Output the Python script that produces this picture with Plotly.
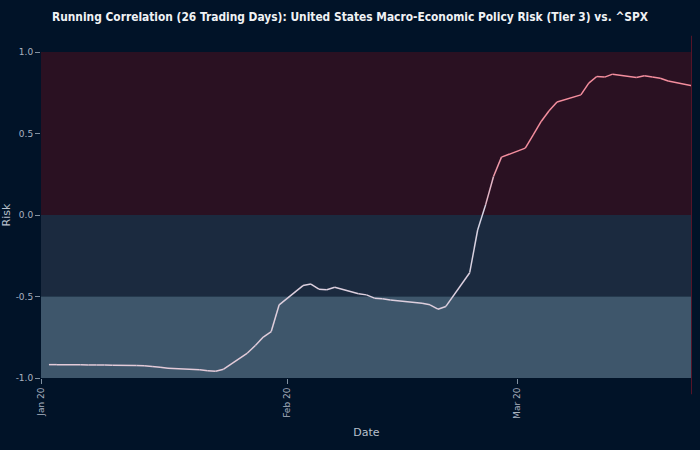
import plotly.graph_objects as go

dates = ["2020-01-02","2020-01-03","2020-01-06","2020-01-07","2020-01-08","2020-01-09","2020-01-10",
         "2020-01-13","2020-01-14","2020-01-15","2020-01-16","2020-01-17","2020-01-21","2020-01-22",
         "2020-01-23","2020-01-24","2020-01-27","2020-01-28","2020-01-29","2020-01-30","2020-01-31",
         "2020-02-03","2020-02-04","2020-02-05","2020-02-06","2020-02-07","2020-02-10","2020-02-11",
         "2020-02-12","2020-02-13","2020-02-14","2020-02-18","2020-02-19","2020-02-20","2020-02-21",
         "2020-02-24","2020-02-25","2020-02-26","2020-02-27","2020-02-28","2020-03-02","2020-03-03",
         "2020-03-04","2020-03-05","2020-03-06","2020-03-09","2020-03-10","2020-03-11","2020-03-12",
         "2020-03-13","2020-03-16","2020-03-17","2020-03-18","2020-03-19","2020-03-20","2020-03-23"]
corr = [-0.918,-0.918,-0.919,-0.920,-0.920,-0.921,-0.922,
        -0.923,-0.925,-0.929,-0.934,-0.940,-0.950,-0.955,
        -0.958,-0.946,-0.847,-0.801,-0.749,-0.715,-0.551,
        -0.433,-0.424,-0.455,-0.459,-0.443,-0.483,-0.490,
        -0.510,-0.514,-0.521,-0.541,-0.551,-0.578,-0.561,
        -0.354,-0.092,0.062,0.236,0.355,0.410,0.492,
        0.574,0.640,0.693,0.737,0.809,0.850,0.846,
        0.864,0.844,0.854,0.847,0.839,0.822,0.793]

bands = [(0.0, 1.0, "rgb(42,17,34)"), (-0.5, 0.0, "rgb(27,42,63)"), (-1.0, -0.5, "rgb(62,86,107)")]

def seg_color(v):
    lo = (228, 202, 216)
    mid = (214, 212, 228)
    hi = (244, 142, 158)
    if v <= 0:
        t = min(1.0, -v)
        c = [mid[i] + (lo[i] - mid[i]) * t for i in range(3)]
    else:
        t = min(1.0, v / 0.35)
        c = [mid[i] + (hi[i] - mid[i]) * t for i in range(3)]
    return "rgb(%d,%d,%d)" % tuple(int(round(x)) for x in c)

fig = go.Figure()
for i in range(len(dates) - 1):
    v = (corr[i] + corr[i + 1]) / 2
    fig.add_trace(go.Scatter(x=dates[i:i + 2], y=corr[i:i + 2], mode="lines",
                             line=dict(color=seg_color(v), width=1.5),
                             showlegend=False, hoverinfo="skip"))

for y0, y1, col in bands:
    fig.add_shape(type="rect", xref="x", yref="y", x0="2020-01-01", x1=dates[-1], y0=y0, y1=y1,
                  fillcolor=col, line=dict(width=0), layer="below")

fig.add_shape(type="line", xref="x", yref="paper", x0=dates[-1], x1=dates[-1], y0=-0.05, y1=1.05,
              line=dict(color="rgb(85,20,40)", width=2))

fig.update_layout(
    width=700, height=450,
    paper_bgcolor="rgb(1,19,40)", plot_bgcolor="rgb(1,19,40)",
    margin=dict(l=41, r=8, t=52, b=72),
    title=dict(text="<b>Running Correlation (26 Trading Days): United States Macro-Economic Policy Risk (Tier 3) vs. ^SPX</b>",
               x=0.5, xanchor="center", y=0.962, yanchor="middle",
               font=dict(family="DejaVu Sans Condensed, DejaVu Sans", size=11.85, color="#f0f2f5")),
    font=dict(family="DejaVu Sans", color="#a9b2c0", size=9),
    showlegend=False,
)
fig.update_xaxes(range=["2020-01-01", dates[-1]], tickformat="%b %y", tickangle=-90, dtick="M1",
                 tick0="2020-01-01", showgrid=False, zeroline=False, ticks="outside", ticklen=5,
                 tickcolor="#8090a0", automargin=False,
                 title=dict(text="Date", font=dict(size=11, color="#b8c0cc"), standoff=10),
                 tickfont=dict(size=9, color="#a9b2c0"))
fig.update_yaxes(range=[-1, 1], tickvals=[-1, -0.5, 0, 0.5, 1], ticktext=["-1.0", "-0.5", "0.0", "0.5", "1.0"],
                 showgrid=False, zeroline=False, ticks="outside", ticklen=5, tickcolor="#8090a0",
                 automargin=False,
                 title=dict(text="Risk", font=dict(size=11, color="#b8c0cc"), standoff=2),
                 tickfont=dict(size=9, color="#a9b2c0"))

fig.write_html("out.html", config={"displayModeBar": False},
               post_script="document.body.style.margin='0';document.body.style.padding='0';")
